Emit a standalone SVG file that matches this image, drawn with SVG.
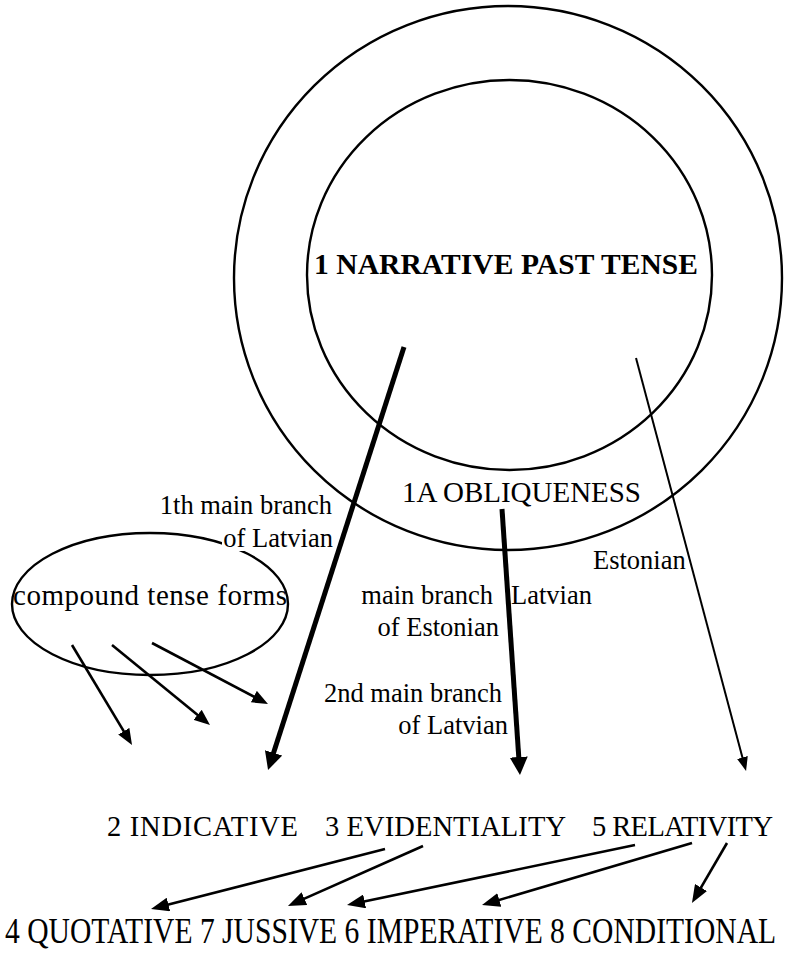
<svg xmlns="http://www.w3.org/2000/svg" width="787" height="953" viewBox="0 0 787 953">
<style>
.ring{fill:none;stroke:#000;stroke-width:2.4}
.thick{stroke:#000;stroke-width:5;fill:none}
.thin{stroke:#000;stroke-width:2;fill:none}
.mid{stroke:#000;stroke-width:2.6;fill:none}
.lbl{font-size:26.5px}
.row1{font-size:28.5px}
.row2{font-size:29.6px}
</style>
<defs>
<marker id="hBig" markerUnits="userSpaceOnUse" markerWidth="18" markerHeight="18" refX="8" refY="9" orient="auto"><path d="M0,0 L18,9 L0,18 z" fill="#000"/></marker>
<marker id="hThin" markerUnits="userSpaceOnUse" markerWidth="14" markerHeight="11" refX="8" refY="5.5" orient="auto"><path d="M0,0 L14,5.5 L0,11 z" fill="#000"/></marker>
<marker id="hMid" markerUnits="userSpaceOnUse" markerWidth="16" markerHeight="13" refX="8" refY="6.5" orient="auto"><path d="M0,0 L16,6.5 L0,13 z" fill="#000"/></marker>
<marker id="hLow" markerUnits="userSpaceOnUse" markerWidth="18" markerHeight="14" refX="8" refY="7" orient="auto"><path d="M0,0 L18,7 L0,14 z" fill="#000"/></marker>
</defs>
<rect width="787" height="953" fill="#fff"/>

<g font-family="Liberation Serif, Times New Roman, serif" fill="#000">
<g id="node-obliqueness">
<ellipse class="ring" cx="508" cy="278" rx="274" ry="272"/>
<text x="402" y="502" font-size="29" textLength="239">1A OBLIQUENESS</text>
</g>
<g id="node-narrative">
<ellipse class="ring" cx="509.5" cy="275" rx="202.5" ry="195"/>
<text x="314" y="274" font-size="29.5" font-weight="bold" textLength="384">1 NARRATIVE PAST TENSE</text>
</g>
<g id="node-compound">
<ellipse class="ring" cx="150" cy="604" rx="138" ry="71"/>
<text x="13" y="605" font-size="29" textLength="274">compound tense forms</text>
</g>

<g id="connectors">
<line class="thick" x1="404" y1="347" x2="271.1" y2="760.5" marker-end="url(#hBig)"/>
<line class="thick" x1="502" y1="509" x2="519.3" y2="765" marker-end="url(#hBig)"/>
<line class="thin" x1="636" y1="358" x2="744.5" y2="765.2" marker-end="url(#hThin)"/>
<line class="mid" x1="72" y1="645" x2="127.9" y2="738.1" marker-end="url(#hMid)"/>
<line class="mid" x1="112" y1="645" x2="203.8" y2="719.9" marker-end="url(#hMid)"/>
<line class="mid" x1="152" y1="643" x2="260.9" y2="700.3" marker-end="url(#hMid)"/>
<line class="mid" x1="385" y1="849" x2="160.7" y2="906.5" marker-end="url(#hLow)"/>
<line class="mid" x1="423" y1="846" x2="297.1" y2="901.9" marker-end="url(#hLow)"/>
<line class="mid" x1="635" y1="845" x2="356.8" y2="903" marker-end="url(#hLow)"/>
<line class="mid" x1="692" y1="843" x2="491.6" y2="902.2" marker-end="url(#hLow)"/>
<line class="mid" x1="727" y1="843" x2="697" y2="894.4" marker-end="url(#hLow)"/>
</g>

<g id="labels">
<text class="lbl" x="332" y="514" text-anchor="end">1th main branch</text>
<rect x="222" y="527" width="112" height="24" fill="#fff"/>
<text class="lbl" x="333" y="547" text-anchor="end">of Latvian</text>
<text class="lbl" x="493" y="604" text-anchor="end">main branch</text>
<text class="lbl" x="499" y="636" text-anchor="end">of Estonian</text>
<text class="lbl" x="511" y="604">Latvian</text>
<text class="lbl" x="593" y="569">Estonian</text>
<text class="lbl" x="502" y="702" text-anchor="end">2nd main branch</text>
<text class="lbl" x="508" y="734" text-anchor="end">of Latvian</text>
</g>

<g id="node-indicative"><text class="row1" x="107" y="836" textLength="191">2 INDICATIVE</text></g>
<g id="node-evidentiality"><text class="row1" x="325" y="836" textLength="241">3 EVIDENTIALITY</text></g>
<g id="node-relativity"><text class="row1" x="592" y="836" textLength="181">5 RELATIVITY</text></g>
<g id="node-bottom-row" transform="translate(5,943) scale(1,1.2)"><text class="row2" x="0" y="0">4 QUOTATIVE 7 JUSSIVE 6 IMPERATIVE 8 CONDITIONAL</text></g>
</g>
</svg>
